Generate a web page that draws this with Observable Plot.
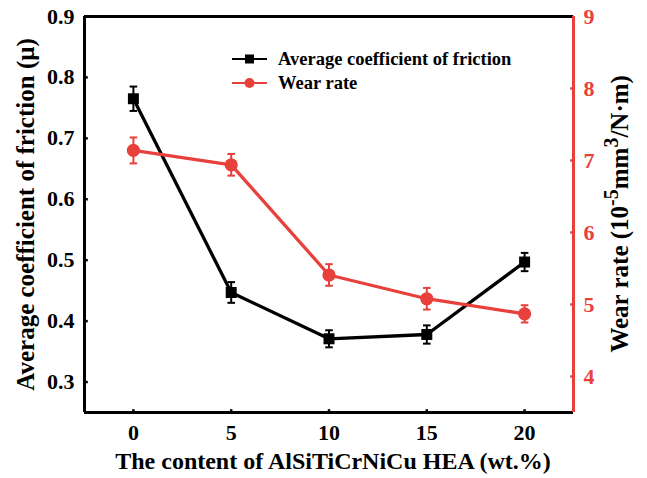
<!DOCTYPE html>
<html>
<head>
<meta charset="utf-8">
<script src="https://cdn.jsdelivr.net/npm/d3@7"></script>
<script src="https://cdn.jsdelivr.net/npm/@observablehq/plot@0.6"></script>
<style>
  body { margin: 0; background: #fff; }
  #chart { position: relative; width: 647px; height: 478px; }
  #chart svg { overflow: visible; }
</style>
</head>
<body>
<div id="chart"></div>
<script>
// HEA content (wt.%) and the two measured responses with their error bars
const content = [0, 5, 10, 15, 20];
const friction = [0.765, 0.447, 0.371, 0.378, 0.497];
const frictionErr = [0.020, 0.017, 0.014, 0.015, 0.015];
const wear = [7.14, 6.94, 5.41, 5.08, 4.87];
const wearErr = [0.18, 0.15, 0.15, 0.15, 0.12];

const xTicks = [0, 5, 10, 15, 20];
const frictionTicks = [0.3, 0.4, 0.5, 0.6, 0.7, 0.8, 0.9];
const wearTicks = [4, 5, 6, 7, 8, 9];

const xDomain = [-2.5, 22.5];
const frictionDomain = [0.25, 0.9];
const wearDomain = [3.5, 9];

const RED = "#e8403b";
const BLACK = "#000";
const FONT = "'Liberation Serif', 'Times New Roman', serif";

// wear rate is drawn on the friction scale and read back on the right axis
const toF = d3.scaleLinear(wearDomain, frictionDomain);

const frictionRows = content.map((c, i) => ({c, v: friction[i], lo: friction[i] - frictionErr[i], hi: friction[i] + frictionErr[i]}));
const wearRows = content.map((c, i) => ({c, v: toF(wear[i]), lo: toF(wear[i] - wearErr[i]), hi: toF(wear[i] + wearErr[i])}));

// small custom symbols: error-bar caps and inward axis ticks
const cap = {draw(ctx, size) { const r = Math.sqrt(size / Math.PI); ctx.moveTo(-r, 0); ctx.lineTo(r, 0); }};
const tickRight = {draw(ctx, size) { const r = Math.sqrt(size / Math.PI); ctx.moveTo(0, 0); ctx.lineTo(r, 0); }};
const tickLeft = {draw(ctx, size) { const r = Math.sqrt(size / Math.PI); ctx.moveTo(0, 0); ctx.lineTo(-r, 0); }};
const tickUp = {draw(ctx, size) { const r = Math.sqrt(size / Math.PI); ctx.moveTo(0, 0); ctx.lineTo(0, -r); }};

function series(rows, color, symbol, r) {
  return [
    Plot.line(rows, {x: "c", y: "v", stroke: color, strokeWidth: 3.3}),
    Plot.ruleX(rows, {x: "c", y1: "lo", y2: "hi", stroke: color, strokeWidth: 2}),
    Plot.dot(rows, {x: "c", y: "lo", symbol: cap, r: 3.8, stroke: color, strokeWidth: 2}),
    Plot.dot(rows, {x: "c", y: "hi", symbol: cap, r: 3.8, stroke: color, strokeWidth: 2}),
    Plot.dot(rows, {x: "c", y: "v", symbol, r, fill: color, stroke: "none"})
  ];
}

const plot = Plot.plot({
  width: 647,
  height: 478,
  marginLeft: 84,
  marginRight: 74,
  marginTop: 16,
  marginBottom: 66,
  style: {fontFamily: FONT, fontSize: "22px", fontWeight: "bold", background: "#fff", color: BLACK},
  x: {domain: xDomain},
  y: {domain: frictionDomain},
  marks: [
    // axes: labels only; ticks drawn inward below
    Plot.axisX({ticks: xTicks, tickSize: 0, tickPadding: 12, tickFormat: d => String(d), label: null}),
    Plot.axisY({anchor: "left", ticks: frictionTicks, tickSize: 0, tickPadding: 10, tickFormat: d => d.toFixed(1), label: null}),
    Plot.axisY({anchor: "right", ticks: wearTicks.map(toF), tickSize: 0, tickPadding: 10,
      tickFormat: d => String(Math.round(toF.invert(d))), fill: RED, label: null}),

    Plot.dot(xTicks, {x: d => d, frameAnchor: "bottom", symbol: tickUp, r: 3.3, stroke: BLACK, strokeWidth: 2.5}),
    Plot.dot(frictionTicks, {y: d => d, frameAnchor: "left", symbol: tickRight, r: 3.3, stroke: BLACK, strokeWidth: 2.5}),
    Plot.dot(wearTicks, {y: d => toF(d), frameAnchor: "right", symbol: tickLeft, r: 3.3, stroke: RED, strokeWidth: 2.5}),

    // frame: black on three sides, red on the wear-rate side
    Plot.ruleY([frictionDomain[0]], {stroke: BLACK, strokeWidth: 3}),
    Plot.ruleY([frictionDomain[1]], {stroke: BLACK, strokeWidth: 3}),
    Plot.ruleX([xDomain[0]], {stroke: BLACK, strokeWidth: 3}),
    Plot.ruleX([xDomain[1]], {stroke: RED, strokeWidth: 3}),

    ...series(frictionRows, BLACK, "square", 6.2),
    ...series(wearRows, RED, "circle", 6.6),

    // axis titles
    Plot.text(["The content of AlSiTiCrNiCu HEA (wt.%)"], {text: d => d, frameAnchor: "bottom", dy: 49, dx: 4, lineAnchor: "middle", textAnchor: "middle", fontSize: 24}),
    Plot.text(["Average coefficient of friction (μ)"], {text: d => d, frameAnchor: "left", dx: -59, rotate: -90, lineAnchor: "middle", textAnchor: "middle", fontSize: 25})
  ]
});

document.getElementById("chart").appendChild(plot);

// right-hand title with superscripts, and the legend
const svg = d3.select(plot);
const rt = svg.append("text")
  .attr("transform", `translate(622,${(16 + 411.7) / 2}) rotate(-90)`)
  .attr("text-anchor", "middle")
  .attr("dominant-baseline", "middle")
  .attr("font-family", FONT).attr("font-weight", "bold").attr("font-size", 25)
  .attr("fill", BLACK);
rt.append("tspan").text("Wear rate (10");
rt.append("tspan").attr("dy", -9).attr("font-size", 20).text("-5");
rt.append("tspan").attr("dy", 9).text("mm");
rt.append("tspan").attr("dy", -9).attr("font-size", 20).text("3");
rt.append("tspan").attr("dy", 9).text("/N·m)");

const legend = [
  {label: "Average coefficient of friction", color: BLACK, symbol: "square", y: 59},
  {label: "Wear rate", color: RED, symbol: "circle", y: 83}
];
const lg = svg.append("g").attr("font-family", FONT).attr("font-weight", "bold").attr("font-size", 18.5).attr("text-anchor", "start");
legend.forEach(item => {
  const g = lg.append("g").attr("transform", `translate(0,${item.y})`);
  g.append("line").attr("x1", 232).attr("x2", 267).attr("stroke", item.color).attr("stroke-width", 2);
  if (item.symbol === "square") {
    g.append("rect").attr("x", 245).attr("y", -4.5).attr("width", 9).attr("height", 9).attr("fill", item.color);
  } else {
    g.append("circle").attr("cx", 249.5).attr("cy", 0).attr("r", 5).attr("fill", item.color);
  }
  g.append("text").attr("x", 278).attr("dy", "0.35em").attr("fill", BLACK).text(item.label);
});
</script>
</body>
</html>
